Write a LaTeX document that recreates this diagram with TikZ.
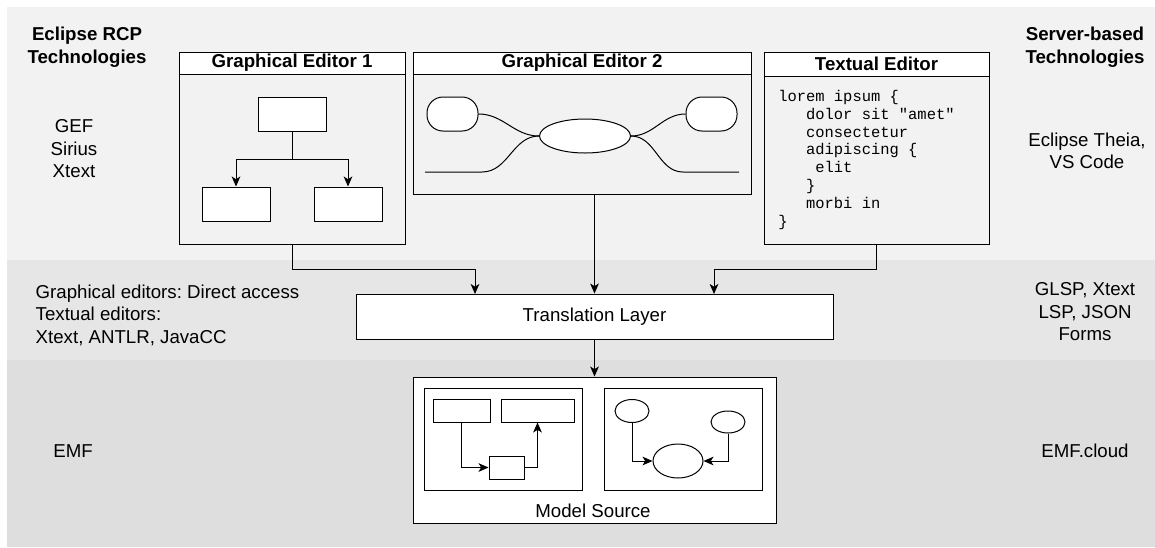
\documentclass[tikz,border=0pt]{standalone}
\usepackage{fontspec}
\setmainfont{Liberation Sans}
\setmonofont{Liberation Mono}
\usepackage{tikz}
\usetikzlibrary{arrows.meta,shapes.geometric}
\definecolor{bandtop}{HTML}{F2F2F2}
\definecolor{bandmid}{HTML}{E6E6E6}
\definecolor{bandbot}{HTML}{DEDEDE}
\frenchspacing
\tikzset{
  box/.style={draw,line width=0.75pt,inner sep=0pt},
  wbox/.style={box,fill=white},
  hdr/.style={wbox,font=\bfseries\fontsize{14}{16.9}\selectfont},
  pill/.style={wbox,rounded corners=12pt},
  oval/.style={ellipse,draw,fill=white,line width=0.75pt,inner sep=0pt},
  txt/.style={align=center,font=\fontsize{14}{16.9}\selectfont},
  ttl/.style={align=center,font=\bfseries\fontsize{14}{16.9}\selectfont},
  lnk/.style={line width=0.75pt},
  arr/.style={lnk,-{Stealth[length=7.5pt,width=6.5pt,inset=2pt]}}
}

\begin{document}
\begin{tikzpicture}[x=0.75pt,y=-0.75pt]
\useasboundingbox (0,0) rectangle (1155,547);
\fill[bandtop] (7,7) rectangle (1155,260);
\fill[bandmid] (7,260) rectangle (1155,360);
\fill[bandbot] (7,360) rectangle (1155,547);

% side labels
\node[ttl] (rcp) at (87,47) {Eclipse RCP\\Technologies};
\node[txt] (rcptools) at (74,149) {GEF\\Sirius\\Xtext};
\node[ttl] (srv) at (1085,47) {Server-based\\Technologies};
\node[txt] (srvtools) at (1087,151) {Eclipse Theia,\\VS Code};
\node[txt,align=left,anchor=west] (rcpaccess) at (31,315) {Graphical editors: Direct access\\Textual editors:\\Xtext, ANTLR, JavaCC};
\node[txt] (srvaccess) at (1085,312) {GLSP, Xtext\\LSP, JSON\\Forms};
\node[txt] (rcpmodel) at (73,451) {EMF};
\node[txt] (srvmodel) at (1085,451) {EMF.cloud};

% graphical editor 1
\node[box,minimum width=169.5pt,minimum height=144pt] (ge1) at (292,148) {};
\node[hdr,minimum width=169.5pt,minimum height=16.5pt] (ge1h) at (292,63) {Graphical Editor 1};
\node[wbox,minimum width=51pt,minimum height=25.5pt] (ge1a) at (292,114) {};
\node[wbox,minimum width=51pt,minimum height=25.5pt] (ge1b) at (236,204) {};
\node[wbox,minimum width=51pt,minimum height=25.5pt] (ge1c) at (348,204) {};
\coordinate (ge1j) at (292,159);
\draw[lnk] (ge1a.south) -- (ge1j);
\draw[arr] (ge1j) -| (ge1b.north);
\draw[arr] (ge1j) -| (ge1c.north);

% graphical editor 2
\node[box,minimum width=253.5pt,minimum height=106.5pt] (ge2) at (582,123) {};
\node[hdr,minimum width=253.5pt,minimum height=16.5pt] (ge2h) at (582,63) {Graphical Editor 2};
\node[pill,minimum width=38.25pt,minimum height=25.5pt] (ge2a) at (452.5,114) {};
\node[pill,minimum width=38.25pt,minimum height=25.5pt] (ge2b) at (711.5,114) {};
\node[oval,minimum width=68.25pt,minimum height=25.5pt] (ge2c) at (585,136) {};
\coordinate (ge2l) at (482,172);
\coordinate (ge2le) at (425,172);
\coordinate (ge2r) at (683,172);
\coordinate (ge2re) at (739,172);
\draw[lnk] (ge2a.east) to[out=0,in=180] (ge2c.west);
\draw[lnk] (ge2le) -- (ge2l) to[out=0,in=180] (ge2c.west);
\draw[lnk] (ge2c.east) to[out=0,in=180] (ge2b.west);
\draw[lnk] (ge2c.east) to[out=0,in=180] (ge2r) -- (ge2re);

% textual editor
\node[box,minimum width=168.75pt,minimum height=144pt] (te) at (876.5,148) {};
\node[hdr,minimum width=168.75pt,minimum height=18pt] (teh) at (876.5,64) {Textual Editor};
\node[anchor=north west,inner sep=0pt,align=left,font=\ttfamily\fontsize{11.6}{13.35}\selectfont] (tecode) at (778,90)
  {lorem ipsum \{\\\phantom{000}dolor sit "amet"\\\phantom{000}consectetur\\\phantom{000}adipiscing \{\\\phantom{0000}elit\\\phantom{000}\}\\\phantom{000}morbi in\\\}};

% translation layer
\node[wbox,txt,minimum width=357.75pt,minimum height=33.75pt] (tl) at (594.5,316.5) {Translation Layer};
\coordinate (tlin1) at (475,294);
\coordinate (tlin3) at (714,294);
\draw[arr] (ge1.south) -- ++(0,25) -| (tlin1);
\draw[arr] (tl.north |- ge2.south) -- (tl.north);
\draw[arr] (te.south) -- ++(0,25) -| (tlin3);

% model source
\node[wbox,minimum width=272.25pt,minimum height=109.5pt] (ms) at (594.5,450) {};
\node[txt] (msl) at (593,511) {Model Source};
\draw[arr] (tl.south) -- (ms.north);
\node[wbox,minimum width=118.5pt,minimum height=76.5pt] (msa) at (503,439) {};
\node[wbox,minimum width=118.5pt,minimum height=76.5pt] (msb) at (683,439) {};
\node[wbox,minimum width=42.75pt,minimum height=17.25pt] (msa1) at (461.5,410.5) {};
\node[wbox,minimum width=54.75pt,minimum height=17.25pt] (msa2) at (537.5,410.5) {};
\node[wbox,minimum width=26.25pt,minimum height=17.25pt] (msa3) at (506.5,467.5) {};
\draw[arr] (msa1.south) |- (msa3.west);
\draw[arr] (msa3.east) -| (msa2.south);
\node[oval,minimum width=25.5pt,minimum height=17.25pt] (msb1) at (632,411) {};
\node[oval,minimum width=25.5pt,minimum height=16.5pt] (msb2) at (728,422) {};
\node[oval,minimum width=37.5pt,minimum height=25.5pt] (msb3) at (678,461) {};
\draw[arr] (msb1.south) |- (msb3.west);
\draw[arr] (msb2.south) |- (msb3.east);
\end{tikzpicture}
\end{document}
